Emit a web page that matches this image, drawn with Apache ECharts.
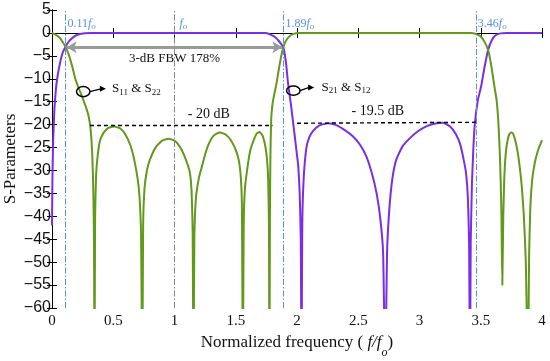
<!DOCTYPE html>
<html><head><meta charset="utf-8">
<script src="https://cdn.jsdelivr.net/npm/echarts@6/dist/echarts.min.js"></script>
<style>html,body{margin:0;padding:0;background:#fff}#c{width:550px;height:361px}</style>
</head><body><div id="c"></div>
<script>
// ---- data (x = f/fo, y = dB) ----
const s11 = [[0,0],[0.03,-0.4],[0.065,-1.1],[0.09,-2.1],[0.11,-3],[0.14,-5],[0.17,-7.8],[0.19,-10],[0.22,-12.2],[0.25,-14.2],[0.28,-16.4],[0.3,-18.3],[0.315,-21],[0.328,-26],[0.337,-34],[0.343,-46],[0.347,-75],
[0.352,-40],[0.36,-31],[0.37,-27.5],[0.39,-23.7],[0.42,-21.8],[0.46,-20.7],[0.51,-20.4],[0.56,-20.9],[0.6,-22.2],[0.64,-24.5],[0.67,-27.5],[0.7,-32],[0.715,-36],[0.727,-44],[0.737,-75],
[0.744,-42],[0.755,-34],[0.775,-30],[0.8,-27.6],[0.85,-24.8],[0.9,-23.5],[0.95,-23.1],[1.0,-23.5],[1.03,-24.3],[1.06,-25.6],[1.095,-27.8],[1.126,-30.5],[1.14,-35],[1.148,-43],[1.155,-75],
[1.162,-45],[1.175,-36],[1.2,-31.5],[1.22,-29.5],[1.25,-26.5],[1.28,-24.2],[1.32,-22.4],[1.37,-21.7],[1.42,-22.2],[1.46,-23.4],[1.5,-25.5],[1.525,-27.8],[1.54,-31],[1.55,-37],[1.558,-75],
[1.565,-42],[1.575,-34],[1.6,-28.5],[1.62,-25.5],[1.645,-23.5],[1.67,-22],[1.695,-21.6],[1.72,-22.5],[1.74,-24.5],[1.755,-27.5],[1.765,-32],[1.771,-42],[1.775,-75],
[1.779,-40],[1.783,-27],[1.789,-19],[1.8,-15.5],[1.815,-13.3],[1.83,-11.4],[1.85,-8.2],[1.87,-5.2],[1.89,-3],[1.91,-1.7],[1.94,-0.7],[1.97,-0.2],[2.02,0],
[3.42,0],[3.46,-0.2],[3.5,-0.8],[3.53,-1.9],[3.56,-3.7],[3.585,-7],[3.61,-11.4],[3.63,-14.8],[3.645,-20],[3.658,-28],[3.668,-38],[3.676,-55],
[3.684,-40],[3.693,-31],[3.705,-26],[3.72,-23.3],[3.735,-22],[3.75,-21.7],[3.765,-22],[3.785,-23.8],[3.8,-25.8],[3.817,-29],[3.835,-33.5],[3.852,-40],[3.868,-50],[3.885,-75],
[3.895,-48],[3.905,-38],[3.92,-32],[3.94,-28.5],[3.965,-25.8],[4.0,-23.4]];

const s21 = [[0,-42],[0.004,-31],[0.01,-23],[0.02,-16.5],[0.032,-12.2],[0.045,-9.5],[0.065,-6.6],[0.085,-4.5],[0.11,-3],[0.14,-1.8],[0.18,-0.8],[0.22,-0.3],[0.27,-0.08],[0.32,0],
[1.74,0],[1.78,-0.3],[1.82,-0.9],[1.85,-1.7],[1.87,-2.4],[1.89,-3.3],[1.91,-6.5],[1.927,-11],[1.95,-15.5],[1.975,-21],[1.995,-25.5],[2.01,-29],[2.022,-35],[2.031,-45],[2.037,-75],
[2.043,-42],[2.055,-31.5],[2.077,-25],[2.1,-22.8],[2.13,-21.4],[2.18,-20.2],[2.254,-19.7],[2.32,-20.1],[2.39,-21.2],[2.458,-22.6],[2.52,-24.6],[2.567,-27],[2.61,-30.5],[2.65,-35],[2.68,-40.5],[2.703,-48],[2.72,-75],
[2.735,-48],[2.755,-38],[2.78,-31.5],[2.81,-27.7],[2.86,-24.8],[2.92,-23],[2.99,-21.4],[3.056,-20.4],[3.12,-19.8],[3.19,-19.6],[3.25,-20.4],[3.295,-22],[3.33,-24.1],[3.358,-27.3],[3.38,-30.6],[3.395,-36],[3.405,-46],[3.412,-75],
[3.418,-46],[3.428,-33],[3.44,-25],[3.452,-19.7],[3.477,-14.6],[3.505,-11.4],[3.53,-7.6],[3.56,-3.7],[3.59,-1.6],[3.62,-0.5],[3.66,-0.1],[3.71,0],[4,0]];

const markersBlue = [0.11, 1.89, 3.46];
const markerLabels = ['0.11', '1.89', '3.46'];
const markerGray = 1.0;
const fbwArrow = [[0.12,-3.1],[1.88,-3.1]];
const ripple1 = [[0.31,-20.1],[1.80,-20.1]];
const ripple2 = [[2.0,-19.7],[3.46,-19.5]];

const serif = '"Liberation Serif","Times New Roman",serif';
const sans = '"Liberation Sans",Arial,sans-serif';
const purple = '#7a2de6';
const green = '#62991b';
const blueMk = '#5a8ee0';

const chart = echarts.init(document.getElementById('c'), null, {renderer:'canvas'});
const fmtY = v => v < 0 ? '\u2212' + Math.abs(v) : String(v);

const dashDot = [6,2,1.5,2];
chart.setOption({
  animation:false,
  backgroundColor:'#fff',
  grid:{left:52,right:8,top:10,bottom:53,containLabel:false,outerBoundsMode:'none'},
  xAxis:[{
    type:'value',min:0,max:4,interval:0.5,position:'bottom',
    name:'Normalized frequency ( {i|f/f}{s|o})',nameLocation:'middle',nameGap:26,nameMoveOverlap:false,
    nameTextStyle:{fontFamily:serif,fontSize:17,color:'#111',rich:{i:{fontFamily:serif,fontStyle:'italic',fontSize:17,color:'#111'},s:{fontFamily:serif,fontStyle:'italic',fontSize:12,color:'#111',verticalAlign:'bottom',padding:[0,0,-8,0]}}},
    axisLine:{lineStyle:{color:'#000',width:1}},
    axisTick:{inside:true,length:5,lineStyle:{color:'#000'}},
    axisLabel:{fontFamily:serif,fontSize:15,color:'#111',margin:6},
    splitLine:{show:false}
  },{
    type:'value',min:0,max:4,interval:0.5,position:'top',
    axisLine:{show:true,lineStyle:{color:'#000',width:1}},
    axisTick:{inside:true,length:5,lineStyle:{color:'#000'}},
    axisLabel:{show:false},splitLine:{show:false}
  }],
  yAxis:[{
    type:'value',min:-60,max:5,interval:5,position:'left',
    name:'S-Parameters',nameLocation:'middle',nameGap:33,nameMoveOverlap:false,
    nameTextStyle:{fontFamily:serif,fontSize:17,color:'#111'},
    axisLine:{show:true,lineStyle:{color:'#000',width:1}},
    axisTick:{show:true,inside:true,length:5,lineStyle:{color:'#000'}},
    axisLabel:{fontFamily:sans,fontSize:16,color:'#111',margin:1,formatter:fmtY},
    splitLine:{show:false}
  },{
    type:'value',min:-60,max:5,interval:5,position:'right',
    axisLine:{show:true,lineStyle:{color:'#000',width:1}},
    axisTick:{show:true,inside:true,length:5,lineStyle:{color:'#000'}},
    axisLabel:{show:false},splitLine:{show:false}
  }],
  series:[
    {type:'line',name:'S21',data:s21,showSymbol:false,symbol:'none',clip:true,smooth:0.15,
     lineStyle:{color:purple,width:2},z:3,
     markLine:{silent:true,symbol:'none',animation:false,label:{show:false},
       lineStyle:{color:blueMk,width:1,type:dashDot},
       data:markersBlue.map(v=>({xAxis:v})).concat([{xAxis:markerGray,lineStyle:{color:'#888',width:1,type:dashDot}}])}
    },
    {type:'line',name:'S11',data:s11,showSymbol:false,symbol:'none',clip:true,smooth:0.15,
     lineStyle:{color:green,width:2},z:4,
     markLine:{silent:true,animation:false,label:{show:false},
       data:[
         [{coord:fbwArrow[0],symbol:'arrow',symbolSize:[9,10],lineStyle:{color:'#9a9a9a',width:3,type:'solid'}},{coord:fbwArrow[1],symbol:'arrow',symbolSize:[9,10]}],
         [{coord:ripple1[0],symbol:'none',lineStyle:{color:'#000',width:1.4,type:[4,3]}},{coord:ripple1[1],symbol:'none'}],
         [{coord:ripple2[0],symbol:'none',lineStyle:{color:'#000',width:1.4,type:[4,3]}},{coord:ripple2[1],symbol:'none'}]
       ]}
    }
  ]
});

// annotations placed from data coordinates
const P = (x,y) => chart.convertToPixel({xAxisIndex:0,yAxisIndex:0},[x,y]);
const g = [];
const richF = {
  n:{fontFamily:serif,fontSize:12,fill:blueMk},
  i:{fontFamily:serif,fontSize:12,fontStyle:'italic',fill:blueMk},
  s:{fontFamily:serif,fontSize:9,fontStyle:'italic',fill:blueMk,padding:[6,0,0,0]}
};
markersBlue.forEach((v,k)=>{
  const p = P(v,5);
  g.push({type:'text',x:p[0]+2,y:p[1]+6,z:10,style:{text:'{n|'+markerLabels[k]+'}{i|f}{s|o}',rich:richF}});
});
{ const p=P(markerGray,5); g.push({type:'text',x:p[0]+5,y:p[1]+6,z:10,style:{text:'{i|f}{s|o}',rich:richF}}); }

function txt(x,y,text,size,align){
  const p=P(x,y);
  g.push({type:'text',x:p[0],y:p[1],z:10,style:{text:text,fontFamily:serif,fontSize:size,fill:'#111',align:align||'center',verticalAlign:'middle'}});
}
txt(1.0,-5.6,'3-dB FBW 178%',13);
txt(1.28,-17.8,'- 20 dB',14);
txt(2.66,-17.1,'- 19.5 dB',14);

const richS = {
  b:{fontFamily:serif,fontSize:13,fill:'#111'},
  s:{fontFamily:serif,fontSize:9,fill:'#111',padding:[7,0,0,0]}
};
function ann(cx,cy,rx,ry,ax2,ay2,tx,ty,label){
  const c=P(cx,cy), a=P(ax2,ay2), t=P(tx,ty);
  const pxr = Math.abs(P(cx+rx,cy)[0]-c[0]);
  const pyr = Math.abs(P(cx,cy+ry)[1]-c[1]);
  g.push({type:'ellipse',z:10,shape:{cx:c[0],cy:c[1],rx:pxr,ry:pyr},style:{fill:'none',stroke:'#000',lineWidth:1.5}});
  const sx=c[0]+pxr, sy=c[1];
  g.push({type:'line',z:10,shape:{x1:sx,y1:sy,x2:a[0]-5,y2:a[1]},style:{stroke:'#000',lineWidth:1.3}});
  g.push({type:'polygon',z:10,shape:{points:[[a[0],a[1]],[a[0]-6,a[1]-3],[a[0]-6,a[1]+3]]},style:{fill:'#000'}});
  g.push({type:'text',z:10,x:t[0],y:t[1],style:{text:label,rich:richS,verticalAlign:'middle',align:'left'}});
}
ann(0.255,-12.8,0.055,1.1,0.44,-12.2,0.49,-12.2,'{b|S}{s|11}{b| & S}{s|22}');
ann(1.97,-12.6,0.055,1.0,2.14,-11.9,2.2,-11.9,'{b|S}{s|21}{b| & S}{s|12}');

chart.setOption({graphic:g});
</script></body></html>
